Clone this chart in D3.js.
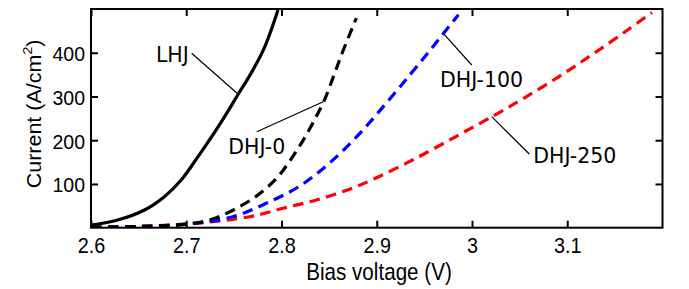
<!DOCTYPE html>
<html><head><meta charset="utf-8">
<script src="https://cdn.jsdelivr.net/npm/d3@7"></script>
<style>body{margin:0;background:#fff}svg{display:block}</style>
</head><body>
<svg id="c" width="689" height="289"></svg>
<script>
const xTicks = [2.6, 2.7, 2.8, 2.9, 3, 3.1];
const yTicks = [100, 200, 300, 400];
const seriesNames = ["LHJ", "DHJ-0", "DHJ-100", "DHJ-250"];
const lhjV = [2.6007, 2.628, 2.6562, 2.677, 2.6947, 2.7122, 2.7297, 2.7437, 2.7542, 2.7683, 2.7823, 2.7963];
const lhjI = [6.2, 17.6, 40.5, 71, 109, 162, 218, 266, 304, 354, 413, 497.7];
const dhj0V = [2.6, 2.65, 2.7, 2.7245, 2.749, 2.7735, 2.7945, 2.8085, 2.8225, 2.8348, 2.8453, 2.8558, 2.8645, 2.8786];
const dhj0I = [1, 3, 8, 17.6, 40, 72, 112, 152, 199, 247, 293, 353, 404, 479];
const dhj100V = [2.6, 2.65, 2.7, 2.749, 2.784, 2.819, 2.85, 2.882, 2.910, 2.935, 2.955, 2.970, 2.9858];
const dhj100I = [1, 3, 8, 25, 55.8, 95, 147, 215, 285, 350, 403, 444, 487];
const dhj250V = [2.6, 2.65, 2.7087, 2.7665, 2.8015, 2.8365, 2.8715, 2.8986, 2.9386, 2.9836, 3.0226, 3.0536, 3.0924, 3.127, 3.1627, 3.1889];
const dhj250I = [1, 3, 10, 25, 44.4, 63.3, 88, 113, 156, 209, 256, 295, 347, 397, 451, 492];
// annotation label positions and leader lines, in data units (V, I)
const annText = [[2.6682, 378.8], [2.7441, 168.5], [2.9664, 322.8], [3.0644, 148]];
const annFrom = [[2.7057, 398.7], [2.774, 219.5], [2.9997, 372], [3.0602, 168.5]];
const annTo = [[2.7546, 305], [2.8439, 288], [2.9699, 444.4], [3.0207, 253.8]];

const W = 689, H = 289;
const m = {l: 91, r: W - 662.5, t: 9, b: H - 227.7};
const svg = d3.select("#c");
const x = d3.scaleLinear().domain([2.6, 3.2]).range([m.l, W - m.r]);
const y = d3.scaleLinear().domain([0, 500]).range([H - m.b, m.t]);

svg.append("clipPath").attr("id", "clp").append("rect")
  .attr("x", m.l).attr("y", m.t).attr("width", x(3.2) - m.l).attr("height", y(0) - m.t);

const series = [
  {v: lhjV, i: lhjI, color: "#000", dash: null},
  {v: dhj0V, i: dhj0I, color: "#000", dash: "10.5,6.5"},
  {v: dhj100V, i: dhj100I, color: "#0000ff", dash: "10.5,6.5"},
  {v: dhj250V, i: dhj250I, color: "#ff0000", dash: "10.5,6.5"}
];
const line = d3.line().x(d => x(d[0])).y(d => y(d[1])).curve(d3.curveCatmullRom.alpha(0.5));
const g = svg.append("g").attr("clip-path", "url(#clp)");
[3, 2, 1, 0].forEach(k => {
  const s = series[k];
  const pts = s.v.map((v, j) => [v, s.i[j]]);
  g.append("path").attr("d", line(pts)).attr("fill", "none")
    .attr("stroke", s.color).attr("stroke-width", 3.2)
    .attr("stroke-dasharray", s.dash);
});

const font = "'Liberation Sans', Arial, sans-serif";
const ax = svg.append("g");
const xb = ax.append("g").attr("transform", `translate(0,${y(0)})`)
  .call(d3.axisBottom(x).tickValues(xTicks).tickFormat(d3.format("~g")).tickSizeInner(-7).tickSizeOuter(0).tickPadding(9.5));
xb.selectAll(".tick text").attr("font-size", 22).attr("transform", "scale(0.9,1)");
ax.append("g").attr("transform", `translate(0,${y(500)})`)
  .call(d3.axisTop(x).tickValues(xTicks).tickFormat("").tickSizeInner(-7).tickSizeOuter(0));
const yl0 = ax.append("g").attr("transform", `translate(${x(2.6)},0)`)
  .call(d3.axisLeft(y).tickValues(yTicks).tickSizeInner(-7).tickSizeOuter(0).tickPadding(6));
yl0.selectAll(".tick text").attr("font-size", 19.5).attr("dy", "0.4em");
ax.append("g").attr("transform", `translate(${x(3.2)},0)`)
  .call(d3.axisRight(y).tickValues(yTicks).tickFormat("").tickSizeInner(-7).tickSizeOuter(0));
ax.selectAll(".domain").remove();
ax.selectAll(".tick line").attr("stroke", "#000").attr("stroke-width", 2);
ax.selectAll(".tick text").attr("font-family", font).attr("fill", "#000");
ax.append("rect").attr("x", x(2.6)).attr("y", y(500)).attr("width", x(3.2) - x(2.6)).attr("height", y(0) - y(500))
  .attr("fill", "none").attr("stroke", "#000").attr("stroke-width", 2);

// axis labels
svg.append("text").attr("transform", `translate(379,280) scale(0.86,1)`)
  .attr("text-anchor", "middle").attr("font-family", font).attr("font-size", 24).text("Bias voltage (V)");
const yl = svg.append("text").attr("transform", `translate(40.5,114) rotate(-90) scale(1,0.9)`)
  .attr("text-anchor", "middle").attr("font-family", font).attr("font-size", 21.5);
yl.append("tspan").text("Current (A/cm");
yl.append("tspan").attr("font-size", 14).attr("dy", -9).text("2");
yl.append("tspan").attr("dy", 9).text(")");

// annotations
const afont = "'DejaVu Sans', sans-serif";
seriesNames.forEach((n, k) => {
  svg.append("line").attr("x1", x(annFrom[k][0])).attr("y1", y(annFrom[k][1]))
    .attr("x2", x(annTo[k][0])).attr("y2", y(annTo[k][1])).attr("stroke", "#000").attr("stroke-width", 1.2);
  svg.append("text").attr("x", x(annText[k][0])).attr("y", y(annText[k][1]))
    .attr("font-family", afont).attr("font-size", 20.5).attr("fill", "#000").text(n);
});
</script>
</body></html>
